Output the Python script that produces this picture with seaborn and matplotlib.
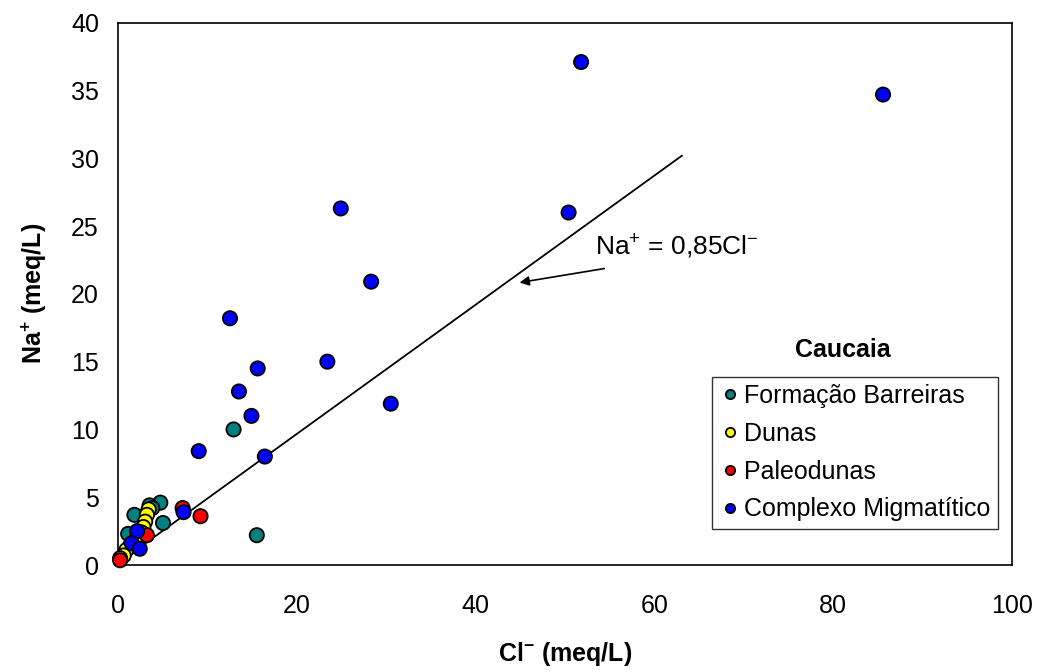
import matplotlib
matplotlib.use("Agg")
import matplotlib.pyplot as plt
import seaborn as sns
import pandas as pd

# Caucaia - Na+ vs Cl- (meq/L)
barreiras_cl = [12.9, 15.5, 4.7, 5.0, 3.5, 3.8, 1.8, 1.1, 3.3]
barreiras_na = [10.0, 2.2, 4.6, 3.1, 4.4, 4.2, 3.7, 2.3, 3.9]

dunas_cl = [3.4, 3.2, 3.0, 2.8, 2.6, 1.9, 1.3, 0.9, 0.6, 0.2]
dunas_na = [4.1, 3.7, 3.2, 2.8, 2.4, 1.8, 1.4, 1.1, 0.7, 0.5]

paleo_cl = [0.2, 3.2, 7.2, 9.2]
paleo_na = [0.35, 2.2, 4.2, 3.6]

migma_cl = [51.8, 85.6, 24.9, 50.4, 28.3, 12.5, 23.4, 15.6, 13.5, 30.5,
            14.9, 9.0, 16.4, 7.3, 2.1, 1.5, 2.4]
migma_na = [37.1, 34.7, 26.3, 26.0, 20.9, 18.2, 15.0, 14.5, 12.8, 11.9,
            11.0, 8.4, 8.0, 3.9, 2.5, 1.6, 1.2]

groups = ["Formação Barreiras", "Dunas", "Paleodunas", "Complexo Migmatítico"]
colors = ["#008080", "#FFFF00", "#FF0000", "#0000FF"]

# reference line Na+ = 0,85Cl- (end points as drawn)
line_cl = [0.3, 63.1]
line_na = [0.3, 30.2]

df = pd.concat([
    pd.DataFrame({"Cl": barreiras_cl, "Na": barreiras_na, "grupo": groups[0]}),
    pd.DataFrame({"Cl": dunas_cl, "Na": dunas_na, "grupo": groups[1]}),
    pd.DataFrame({"Cl": paleo_cl, "Na": paleo_na, "grupo": groups[2]}),
    pd.DataFrame({"Cl": migma_cl, "Na": migma_na, "grupo": groups[3]}),
], ignore_index=True)

sns.set_theme(style="white")
plt.rcParams["font.family"] = ["Liberation Sans", "DejaVu Sans"]
plt.rcParams["text.color"] = "black"
plt.rcParams["axes.labelcolor"] = "black"
plt.rcParams["mathtext.fontset"] = "custom"
plt.rcParams["mathtext.rm"] = "Liberation Sans"
plt.rcParams["mathtext.it"] = "Liberation Sans:italic"
plt.rcParams["mathtext.bf"] = "Liberation Sans:bold"

fig, ax = plt.subplots(figsize=(10.37, 6.72), dpi=100)
fig.subplots_adjust(left=0.1141, right=0.9756, top=0.9662, bottom=0.1592)

sns.scatterplot(data=df, x="Cl", y="Na", hue="grupo", hue_order=groups,
                palette=colors, s=105, edgecolor="black", linewidth=1.3,
                ax=ax, zorder=3, clip_on=False)

ax.plot(line_cl, line_na, color="black", lw=1.3, zorder=2)

# arrow + equation label
ax.annotate("", xy=(44.6, 20.8), xytext=(54.7, 21.9),
            arrowprops=dict(arrowstyle="-|>", color="black", lw=1.2,
                            mutation_scale=14))
ax.text(53.4, 22.9, r"Na$^{+}$ = 0,85Cl$^{-}$", fontsize=19,
        ha="left", va="baseline")

ax.set_xlim(0, 100)
ax.set_ylim(0, 40)
ax.set_xticks(range(0, 101, 20))
ax.set_yticks(range(0, 41, 5))
ax.tick_params(axis="both", direction="in", length=7, width=1,
               labelsize=18, color="#555555", labelcolor="black")
ax.tick_params(axis="x", pad=21)
ax.tick_params(axis="y", pad=14)
for sp in ax.spines.values():
    sp.set_color("black")
    sp.set_linewidth(1.2)

ax.set_xlabel(r"$\mathbf{Cl^{-}}$ (meq/L)", fontsize=18, fontweight="bold",
              labelpad=16)
ax.set_ylabel(r"$\mathbf{Na^{+}}$ (meq/L)", fontsize=18, fontweight="bold",
              labelpad=16)

# legend box with the title sitting above it, as in the original
leg = ax.legend(loc="upper left",
                bbox_to_anchor=(711.7 / 1037, 1 - 376.7 / 672),
                bbox_transform=fig.transFigure, borderaxespad=0,
                frameon=True, fancybox=False, fontsize=18, markerscale=0.65,
                handletextpad=0.1, handlelength=0.9, labelspacing=0.55,
                borderpad=0.3)
leg.get_frame().set_edgecolor("black")
leg.get_frame().set_linewidth(1.0)
fig.text(843 / 1037, 1 - 350 / 672, "Caucaia", fontsize=18,
         fontweight="bold", ha="center", va="center")

fig.savefig("out.png", dpi=100)
